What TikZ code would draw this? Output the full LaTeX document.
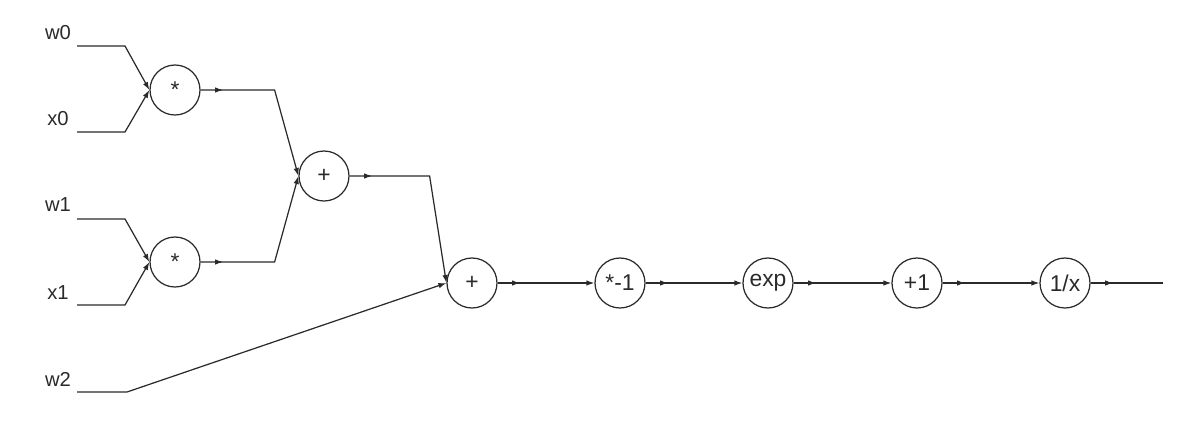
\documentclass[tikz,border=0pt]{standalone}
\usepackage{fontspec}
\setmainfont{Liberation Sans}
\usetikzlibrary{arrows.meta,decorations.markings}
\definecolor{ink}{HTML}{2A2A2A}
\tikzset{
  op/.style={circle,draw=ink,line width=0.7pt,minimum size=1cm,inner sep=0pt,font=\fontsize{13}{15}\selectfont,text=ink},
  lbl/.style={font=\fontsize{11.5}{13}\selectfont,text=ink},
  conn/.style={draw=ink,line width=0.7pt,-{Latex[length=1.6mm,width=1.1mm]}},
  outconn/.style={draw=ink,line width=0.7pt,postaction={decorate,decoration={markings,mark=at position 0.45cm with {\arrow{Latex[length=1.6mm,width=1.1mm]}}}}}
}
\begin{document}
\begin{tikzpicture}[x=0.02cm,y=-0.02cm]
\useasboundingbox (0,0) rectangle (1200,426);
% inputs
\node[lbl] (lw0) at (58,33) {w0};
\node[lbl] (lx0) at (58,119) {x0};
\node[lbl] (lw1) at (58,205) {w1};
\node[lbl] (lx1) at (58,293) {x1};
\node[lbl] (lw2) at (58,379) {w2};
\coordinate (w0s) at (77,46);
\coordinate (x0s) at (77,132);
\coordinate (w1s) at (77,219);
\coordinate (x1s) at (77,305);
\coordinate (w2s) at (77,392);
% operations
\node[op] (m1) at (175,90) {*};
\node[op] (m2) at (175,262) {*};
\node[op] (p1) at (324,176) {+};
\node[op] (p2) at (472,283) {+};
\node[op] (n1) at (620,283) {*-1};
\node[op] (ex) at (768,283) {exp};
\node[op] (a1) at (917,283) {+1};
\node[op] (rc) at (1065,283) {1/x};
\coordinate (out) at (1163,283);
% input connectors
\draw[conn] (w0s) -- ++(48,0) -- (m1.west);
\draw[conn] (x0s) -- ++(48,0) -- (m1.west);
\draw[conn] (w1s) -- ++(48,0) -- (m2.west);
\draw[conn] (x1s) -- ++(48,0) -- (m2.west);
\draw[conn] (w2s) -- ++(50,0) -- (p2.west);
% internal connectors
\draw[conn,outconn] (m1.east) -- ++(74,0) -- (p1.west);
\draw[conn,outconn] (m2.east) -- ++(74,0) -- (p1.west);
\draw[conn,outconn] (p1.east) -- ++(80,0) -- (p2.west);
\draw[conn,outconn] (p2.east) -- (n1.west);
\draw[conn,outconn] (n1.east) -- (ex.west);
\draw[conn,outconn] (ex.east) -- (a1.west);
\draw[conn,outconn] (a1.east) -- (rc.west);
\draw[outconn] (rc.east) -- (out);
\end{tikzpicture}
\end{document}
